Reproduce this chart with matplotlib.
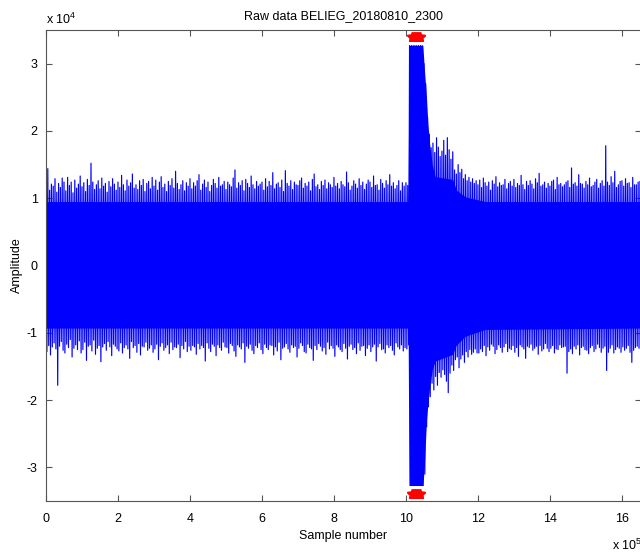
import matplotlib
matplotlib.use("Agg")
import matplotlib.pyplot as plt
import numpy as np

plt.rcParams['font.family'] = ['Liberation Sans', 'DejaVu Sans']
plt.rcParams['mathtext.fontset'] = 'custom'
plt.rcParams['mathtext.rm'] = 'Liberation Sans'
plt.rcParams['mathtext.default'] = 'regular'

# peak amplitudes, one up/down pair per 5000 samples
STEP = 5000
peak_hi = [
    12500, 14400, 11200, 12100, 11800, 12900, 10900, 12200, 11600, 13000, 12400, 11100, 13100, 11900, 12400, 10800, 12700, 11500, 12100, 13300,
    11700, 12300, 11000, 12800, 11900, 15200, 12400, 11300, 12000, 12600, 11400, 13000, 11800, 12200, 10900, 12500, 11700, 12900, 12100, 11200,
    12400, 11600, 13400, 12000, 11100, 12700, 11800, 12300, 13600, 11500, 12000, 11300, 12600, 11900, 12800, 11000, 12200, 12500, 11400, 13100,
    11800, 12700, 11200, 12400, 13200, 11600, 12100, 11000, 12500, 11900, 12900, 11500, 14000, 12200, 11300, 12000, 12600, 11100, 12300, 11800,
    12900, 11400, 12300, 11800, 12600, 13500, 11200, 12100, 12700, 11600, 12400, 11000, 11900, 12800, 12200, 11500, 13100, 11800, 12000, 12500,
    11300, 12400, 12000, 11700, 13000, 14200, 11500, 12300, 11900, 12600, 11100, 12800, 12200, 11600, 13300, 12000, 11400, 12500, 11800, 12100,
    12400, 11200, 12900, 11700, 12500, 11900, 13800, 11400, 12100, 12300, 11600, 12700, 11000, 14100, 12200, 11800, 12600, 11300, 12400, 12000,
    11900, 12600, 13000, 11500, 12200, 11800, 12400, 11100, 12800, 13600, 11700, 12000, 11300, 12500, 11900, 12700, 11400, 12300, 12000, 11600,
    13100, 11800, 12200, 11400, 12500, 12000, 11700, 13900, 12300, 11200, 11800, 12600, 12100, 11500, 12900, 11900, 12400, 11300, 12100, 12700,
    12400, 11600, 13300, 11900, 12000, 11200, 12800, 12200, 11500, 12600, 12000, 13500, 11800, 12300, 11400, 11900, 12600, 11100, 12300, 11800,
    12300, 11900, 32700, 32700, 32700, 32700, 32700, 32700, 32700, 32700, 30000, 27000, 22000, 19500, 17500, 18200, 16800, 19000, 17600, 16200,
    17000, 18600, 16400, 19000, 17200, 15800, 16900, 14200, 13600, 15000, 13800, 14300, 12900, 13500, 12600, 13100, 12400, 12900, 12200, 12600,
    12000, 12700, 11600, 13000, 12300, 11800, 12400, 11200, 12600, 12100, 13200, 11700, 12300, 11900, 12000, 12800, 11400, 12200, 12500, 11800,
    12800, 11600, 12200, 11900, 13400, 12000, 11300, 12500, 11900, 12600, 12100, 11400, 12900, 12300, 13700, 11800, 12000, 12400, 11500, 12200,
    11800, 12500, 12700, 11300, 13100, 12000, 12200, 11700, 12000, 12400, 12600, 11600, 14500, 12100, 12300, 11800, 13500, 12200, 12100, 11500,
    12500, 12000, 13000, 11700, 11900, 12400, 12800, 11500, 12200, 12600, 11800, 17800, 12400, 11900, 13200, 12300, 14000, 11600, 12000, 12500,
    12600, 11800, 12900, 12200, 12300, 11600, 13100, 12000, 12000, 12400, 12500,
]
peak_lo = [
    -12800, -11900, -13300, -12100, -11500, -12400, -17800, -12000, -11300, -12600, -13000, -11700, -12200, -11000, -13600, -12300, -11800, -12500, -11200, -13000,
    -12500, -11400, -14100, -12000, -11800, -12700, -11100, -13200, -12300, -11900, -14300, -12100, -11600, -12600, -11300, -12100, -13400, -11700, -12000, -12400,
    -12700, -11500, -13000, -12200, -11800, -12400, -13800, -11300, -12200, -11900, -12900, -11600, -13300, -12000, -12100, -11400, -12600, -12300, -11800, -12900,
    -12400, -11700, -14000, -12000, -11500, -12600, -12200, -11800, -13100, -11400, -12500, -12100, -12200, -11700, -13700, -11900, -12400, -11300, -12800, -12000,
    -12600, -11900, -12100, -13200, -11600, -12400, -11900, -12200, -14200, -11500, -12300, -12800, -11700, -12000, -13400, -11800, -12200, -12600, -11400, -12100,
    -12200, -13000, -11600, -11900, -12700, -13500, -11800, -12100, -12400, -11500, -14400, -12000, -12300, -11700, -12600, -13100, -11900, -12200, -11500, -12500,
    -13100, -11700, -12200, -12500, -11800, -11900, -13300, -12100, -12700, -11400, -14000, -12300, -12100, -11600, -12400, -12900, -11800, -12200, -12000, -13600,
    -12300, -11500, -11900, -12800, -13000, -11700, -12200, -12400, -14100, -11900, -12500, -11600, -12000, -12700, -12200, -13200, -11400, -12400, -11900, -12300,
    -13500, -11800, -12100, -12500, -12800, -11600, -12300, -13900, -12000, -11700, -12500, -12200, -13100, -11500, -12600, -12000, -11900, -13400, -12300, -11800,
    -12800, -12100, -11700, -14200, -12100, -11600, -12500, -12400, -13000, -11800, -12200, -11900, -12600, -13300, -11500, -12100, -12400, -11800, -12700, -12200,
    -12400, -11800, -32700, -32700, -32700, -32700, -32700, -32700, -32700, -32700, -31000, -24000, -21000, -19500, -17500, -18500, -16500, -17800, -15900, -16600,
    -15500, -16200, -17200, -18900, -16000, -14800, -15600, -14000, -13600, -15200, -13900, -13300, -14400, -12800, -13600, -12500, -13200, -12900, -12400, -13000,
    -13000, -12400, -12800, -11900, -13400, -12100, -12600, -11700, -12000, -13100, -12500, -11800, -12200, -12900, -12100, -11600, -12800, -12300, -12500, -11900,
    -12900, -12200, -13500, -11800, -12100, -12400, -13800, -12000, -12200, -11700, -12600, -12300, -12000, -13200, -11900, -12700, -12400, -11600, -12300, -12800,
    -12300, -11900, -13000, -12400, -12500, -11800, -12200, -12100, -12000, -16000, -12800, -12400, -13100, -12000, -12400, -11800, -13300, -12200, -12000, -12500,
    -12600, -13100, -12200, -11900, -12800, -12400, -11700, -12200, -12900, -12300, -12000, -15600, -12900, -12300, -11800, -13000, -12500, -12100, -12300, -12900,
    -12100, -12600, -12300, -11900, -12900, -14400, -12600, -12200, -12000, -12300, -12100,
]

# dense core of the trace (solid band)
core_x = [0, 1006000, 1008500, 1047000, 1051000, 1057000, 1061000, 1066000,
          1073000, 1081000, 1130000, 1140000, 1165000, 1220000, 1660000]
core_hi = [9500, 9500, 32700, 32700, 29300, 25000, 21000, 18000,
           15000, 13200, 12800, 11200, 10200, 9500, 9500]
core_lo = [-9300, -9300, -32700, -32700, -30000, -23000, -20500, -18000,
           -15500, -14200, -13200, -11800, -10500, -9500, -9300]

# clipped samples marked in red
clip_x = [1016000, 1018000, 1020000, 1022000, 1024000, 1026000, 1028000,
          1030000, 1032000, 1034000, 1036000, 1038000, 1040000]
CLIP_LEVEL = 34000

xticks = [0, 200000, 400000, 600000, 800000, 1000000, 1200000, 1400000, 1600000]
xtick_labels = ['0', '2', '4', '6', '8', '10', '12', '14', '16']
yticks = [-30000, -20000, -10000, 0, 10000, 20000, 30000]
ytick_labels = ['-3', '-2', '-1', '0', '1', '2', '3']

# interleave the peaks into a zig-zag trace
n = min(len(peak_hi), len(peak_lo))
wave_x = np.empty(2 * n)
wave_y = np.empty(2 * n)
wave_x[0::2] = np.arange(n) * STEP
wave_x[1::2] = np.arange(n) * STEP + STEP / 2
wave_y[0::2] = peak_hi[:n]
wave_y[1::2] = peak_lo[:n]

fig = plt.figure(figsize=(6.4, 5.56), dpi=100)
ax = fig.add_axes([46 / 640, 55 / 556, 595 / 640, 471 / 556])

ax.fill_between(core_x, core_lo, core_hi, color='blue', lw=0)
ax.plot(wave_x, wave_y, color='blue', lw=0.85)
ax.plot(clip_x, [CLIP_LEVEL] * len(clip_x), '*', color='red', ms=7, mew=1)
ax.plot(clip_x, [-CLIP_LEVEL] * len(clip_x), '*', color='red', ms=7, mew=1)

ax.set_xlim(0, 1653000)
ax.set_ylim(-35000, 35000)
ax.set_xticks(xticks)
ax.set_xticklabels(xtick_labels)
ax.set_yticks(yticks)
ax.set_yticklabels(ytick_labels)

for s in ax.spines.values():
    s.set_color('#555555')
    s.set_linewidth(0.8)
ax.tick_params(direction='in', length=4, width=0.8, color='#555555',
               labelsize=9, top=True, right=True, pad=6)
ax.tick_params(axis='x', pad=9)

ax.set_title('Raw data BELIEG_20180810_2300', fontsize=9, pad=8)
ax.set_xlabel('Sample number', fontsize=9, labelpad=3)
ax.set_ylabel('Amplitude', fontsize=9, labelpad=3)

ax.annotate(r'x 10$^{4}$', xy=(0, 1), xycoords='axes fraction',
            xytext=(0, 2), textcoords='offset points', fontsize=9,
            ha='left', va='bottom')
fig.text(612 / 640, 1 - 550 / 556, r'x 10$^{5}$', fontsize=9,
         ha='left', va='baseline')

fig.savefig('out.png', dpi=100)
